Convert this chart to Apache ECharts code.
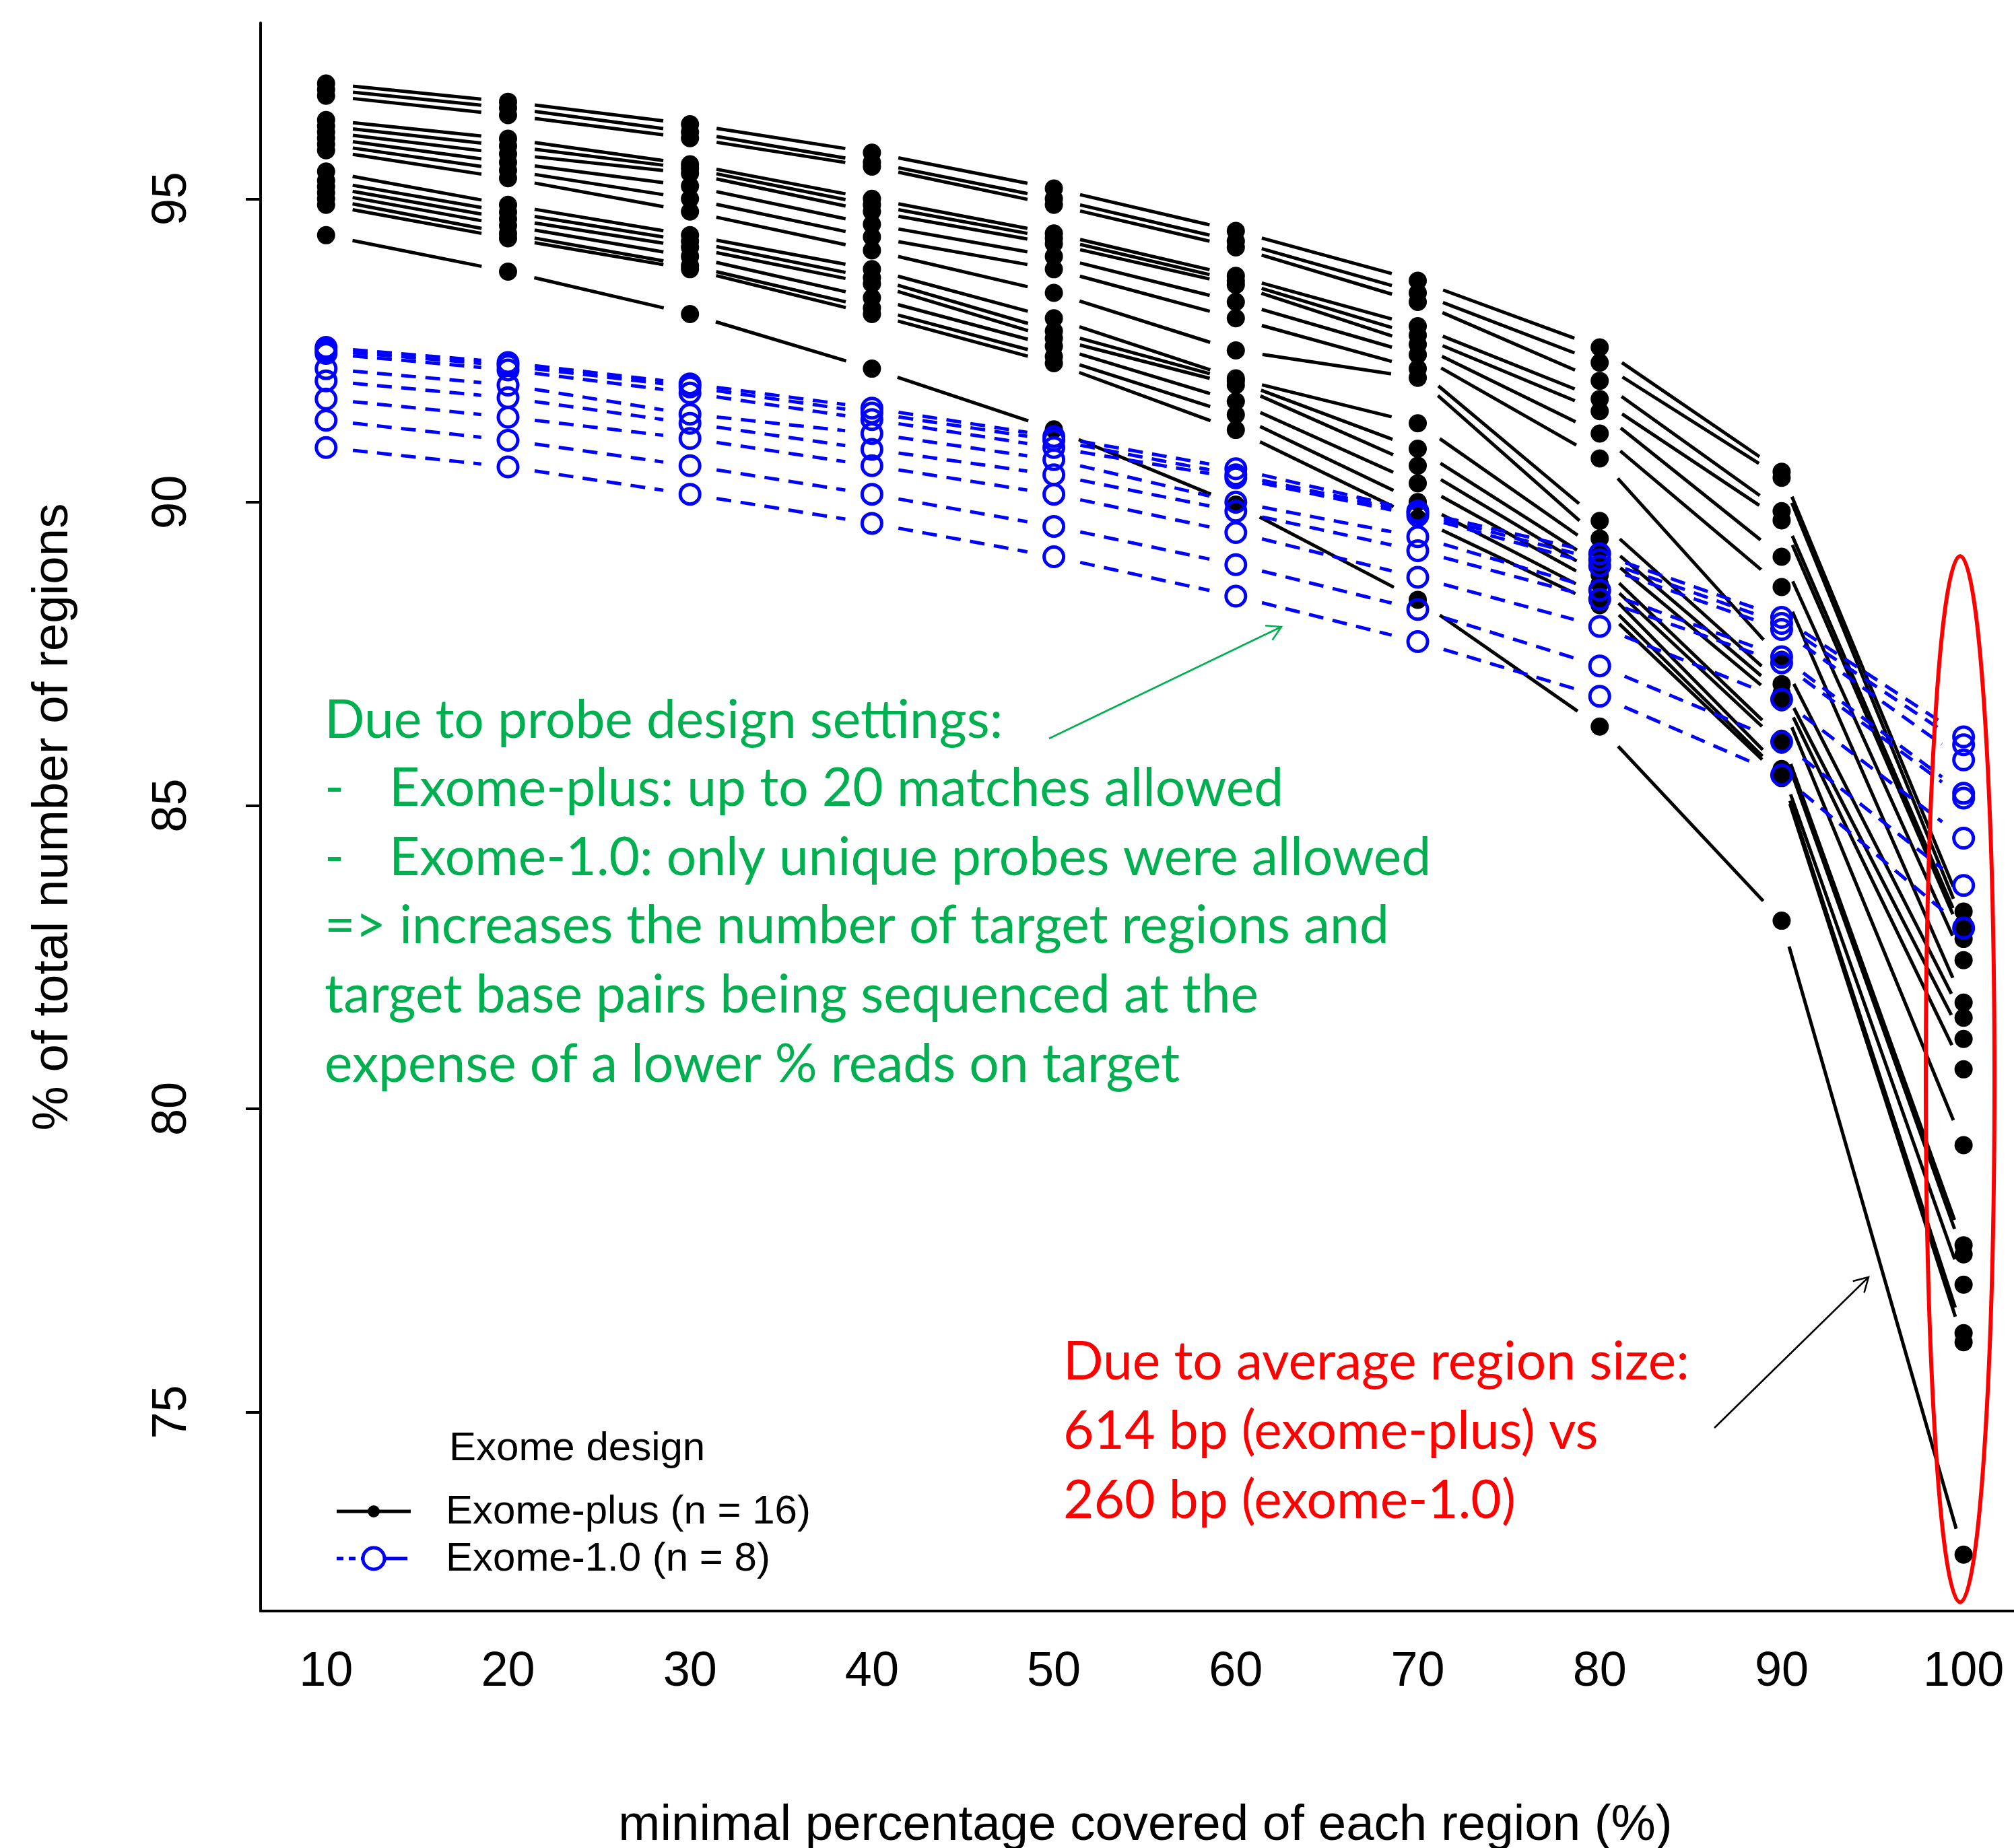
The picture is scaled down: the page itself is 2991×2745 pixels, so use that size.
<!DOCTYPE html>
<html>
<head>
<meta charset="utf-8">
<script src="https://cdn.jsdelivr.net/npm/echarts@6/dist/echarts.min.js"></script>
<style>
html,body{margin:0;padding:0;background:#fff;overflow:hidden;}
#chart{width:2991px;height:2745px;}
</style>
</head>
<body>
<div id="chart"></div>
<script>
// ---------------- DATA ----------------
const coverage = [10, 20, 30, 40, 50, 60, 70, 80, 90, 100];
const yTicks = [75, 80, 85, 90, 95];

// Exome-plus samples (n = 16)
const plus01 = [96.9, 96.6, 96.23, 95.76, 95.17, 94.47, 93.65, 92.55, 90.5, 83.25];
const plus02 = [96.8, 96.5, 96.1, 95.6, 95.0, 94.3, 93.45, 92.3, 90.4, 83.05];
const plus03 = [96.7, 96.38, 96.0, 95.53, 94.9, 94.2, 93.3, 92.0, 89.85, 82.9];
const plus04 = [96.3, 95.99, 95.57, 95.0, 94.43, 93.73, 92.9, 91.7, 89.7, 82.8];
const plus05 = [96.2, 95.87, 95.5, 94.9, 94.35, 93.65, 92.75, 91.5, 89.1, 82.45];
const plus06 = [96.1, 95.74, 95.42, 94.79, 94.26, 93.58, 92.6, 91.13, 88.6, 81.75];
const plus07 = [96.0, 95.6, 95.21, 94.58, 94.05, 93.3, 92.43, 90.72, 87.4, 81.5];
const plus08 = [95.9, 95.47, 95.0, 94.37, 93.84, 93.03, 92.2, 89.69, 87.0, 81.15];
const plus09 = [95.8, 95.34, 94.79, 94.15, 93.45, 92.5, 92.05, 89.4, 86.85, 80.65];
const plus10 = [95.45, 94.9, 94.4, 93.84, 93.03, 92.04, 91.3, 89.2, 86.7, 79.4];
const plus11 = [95.3, 94.78, 94.3, 93.7, 92.82, 92.0, 90.88, 88.97, 86.1, 77.75];
const plus12 = [95.2, 94.67, 94.2, 93.6, 92.7, 91.93, 90.6, 88.8, 86.0, 77.6];
const plus13 = [95.1, 94.56, 94.05, 93.37, 92.57, 91.66, 90.31, 88.65, 85.6, 77.1];
const plus14 = [95.0, 94.43, 93.9, 93.2, 92.4, 91.44, 90.0, 88.45, 85.5, 76.3];
const plus15 = [94.9, 94.35, 93.84, 93.1, 92.29, 91.19, 89.73, 88.3, 85.45, 76.15];
const plus16 = [94.4, 93.8, 93.1, 92.2, 91.2, 89.96, 88.39, 86.3, 83.1, 72.65];

// Exome-1.0 samples (n = 8)
const v1s1 = [92.55, 92.3, 91.95, 91.55, 91.08, 90.55, 89.85, 89.15, 88.1, 86.13];
const v1s2 = [92.5, 92.25, 91.9, 91.47, 91.02, 90.45, 89.82, 89.05, 88.0, 86.0];
const v1s3 = [92.45, 92.18, 91.8, 91.36, 90.9, 90.4, 89.78, 88.95, 87.9, 85.75];
const v1s4 = [92.2, 91.93, 91.45, 91.13, 90.7, 90.0, 89.43, 88.55, 87.45, 85.2];
const v1s5 = [92.0, 91.72, 91.3, 90.87, 90.45, 89.85, 89.2, 88.4, 87.35, 85.12];
const v1s6 = [91.7, 91.4, 91.05, 90.6, 90.13, 89.5, 88.76, 87.95, 86.75, 84.46];
const v1s7 = [91.35, 91.02, 90.6, 90.13, 89.6, 88.97, 88.23, 87.3, 86.05, 83.68];
const v1s8 = [90.9, 90.58, 90.13, 89.65, 89.1, 88.45, 87.7, 86.8, 85.5, 82.98];

const exomePlus = [plus01, plus02, plus03, plus04, plus05, plus06, plus07, plus08,
                   plus09, plus10, plus11, plus12, plus13, plus14, plus15, plus16];
const exome10 = [v1s1, v1s2, v1s3, v1s4, v1s5, v1s6, v1s7, v1s8];

// ---------------- BUILD ----------------
function points(group) {
  const out = [];
  group.forEach(s => s.forEach((v, i) => out.push([coverage[i], v])));
  return out;
}
function segments(group) {
  const out = [];
  group.forEach(s => {
    for (let i = 0; i < s.length - 1; i++) out.push([coverage[i], s[i], coverage[i + 1], s[i + 1]]);
  });
  return out;
}
const GAP = 40;
function segRender(color, dash) {
  return function (params, api) {
    const a = api.coord([api.value(0), api.value(1)]);
    const b = api.coord([api.value(2), api.value(3)]);
    const dx = b[0] - a[0], dy = b[1] - a[1], L = Math.hypot(dx, dy);
    if (L <= 2 * GAP) return {type: 'group', children: []};
    const ux = dx / L, uy = dy / L;
    return {
      type: 'line',
      shape: {x1: a[0] + ux * GAP, y1: a[1] + uy * GAP, x2: b[0] - ux * GAP, y2: b[1] - uy * GAP},
      style: {stroke: color, lineWidth: 5, lineDash: dash, fill: null}
    };
  };
}

const FONT = 'Liberation Sans, Arial, sans-serif';
const NOTE_FONT = 'Lato, Carlito, sans-serif';
const GREEN = '#00B050';
const RED = '#FF0000';

function arrow(x1, y1, x2, y2, color, w) {
  const dx = x2 - x1, dy = y2 - y1, L = Math.hypot(dx, dy);
  const ux = -dx / L, uy = -dy / L, h = 24, c = Math.cos(Math.PI / 6), s = Math.sin(Math.PI / 6);
  const p1 = [x2 + h * (ux * c - uy * s), y2 + h * (ux * s + uy * c)];
  const p2 = [x2 + h * (ux * c + uy * s), y2 + h * (-ux * s + uy * c)];
  return [
    {type: 'line', shape: {x1, y1, x2, y2}, style: {stroke: color, lineWidth: w}},
    {type: 'polyline', shape: {points: [p1, [x2, y2], p2]}, style: {stroke: color, lineWidth: w, fill: null}}
  ];
}
function txt(x, y, text, color, size, font) {
  return {type: 'text', x, y, style: {text, fill: color, font: size + 'px ' + font, textAlign: 'left', textVerticalAlign: 'middle'}};
}

const NS = 78.5;
const graphics = [
  txt(482, 1071, 'Due to probe design settings:', GREEN, NS, NOTE_FONT),
  txt(482, 1172, '-', GREEN, NS, NOTE_FONT),
  txt(578, 1172, 'Exome-plus: up to 20 matches allowed', GREEN, NS, NOTE_FONT),
  txt(482, 1275, '-', GREEN, NS, NOTE_FONT),
  txt(578, 1275, 'Exome-1.0: only unique probes were allowed', GREEN, NS, NOTE_FONT),
  txt(482, 1376, '=> increases the number of target regions and', GREEN, NS, NOTE_FONT),
  txt(482, 1479, 'target base pairs being sequenced at the', GREEN, NS, NOTE_FONT),
  txt(482, 1582, 'expense of a lower % reads on target', GREEN, NS, NOTE_FONT),
  txt(1579, 2024, 'Due to average region size:', RED, NS, NOTE_FONT),
  txt(1579, 2127, '614 bp (exome-plus) vs', RED, NS, NOTE_FONT),
  txt(1579, 2230, '260 bp (exome-1.0)', RED, NS, NOTE_FONT),
  ...arrow(1558, 1097, 1903, 931, GREEN, 2.5),
  ...arrow(2546, 2121, 2775, 1897, '#000', 2.5),
  {type: 'ellipse', shape: {cx: 2911, cy: 1603, rx: 51, ry: 777}, style: {stroke: RED, lineWidth: 6, fill: null}, z: 100},
  // legend
  txt(667, 2152, 'Exome design', '#000', 60, FONT),
  {type: 'line', shape: {x1: 500, y1: 2245, x2: 610, y2: 2245}, style: {stroke: '#000', lineWidth: 5}},
  {type: 'circle', shape: {cx: 555, cy: 2245, r: 9}, style: {fill: '#000'}},
  txt(662, 2246, 'Exome-plus (n = 16)', '#000', 60, FONT),
  {type: 'line', shape: {x1: 500, y1: 2315, x2: 538, y2: 2315}, style: {stroke: '#0000FF', lineWidth: 5, lineDash: [10, 8]}},
  {type: 'line', shape: {x1: 572, y1: 2315, x2: 605, y2: 2315}, style: {stroke: '#0000FF', lineWidth: 5}},
  {type: 'circle', shape: {cx: 555, cy: 2315, r: 16}, style: {fill: null, stroke: '#0000FF', lineWidth: 5}},
  txt(662, 2316, 'Exome-1.0 (n = 8)', '#000', 60, FONT)
];

const chart = echarts.init(document.getElementById('chart'), null, {renderer: 'canvas'});
chart.setOption({
  animation: false,
  backgroundColor: '#fff',
  grid: {left: 387, top: 34, width: 2604, height: 2359, outerBoundsMode: 'none', containLabel: false},
  xAxis: {
    type: 'value', min: 6.4, max: 102.77,
    name: 'minimal percentage covered of each region (%)',
    nameLocation: 'middle', nameGap: 282,
    nameTextStyle: {fontSize: 74.5, fontFamily: FONT, color: '#000', padding: [0, 0, 0, 24]},
    axisLine: {show: true, onZero: false, lineStyle: {color: '#000', width: 4}},
    axisTick: {show: false},
    axisLabel: {customValues: coverage, fontSize: 72, fontFamily: FONT, color: '#000', margin: 55},
    splitLine: {show: false}
  },
  yAxis: {
    type: 'value', min: 71.72, max: 97.9,
    name: '% of total number of regions',
    nameLocation: 'middle', nameGap: 270, nameRotate: 90,
    nameTextStyle: {fontSize: 74.5, fontFamily: FONT, color: '#000'},
    axisLine: {show: true, onZero: false, lineStyle: {color: '#000', width: 4}},
    axisTick: {show: true, customValues: yTicks, length: 22, lineStyle: {color: '#000', width: 4}},
    axisLabel: {customValues: yTicks, rotate: 90, fontSize: 72, fontFamily: FONT, color: '#000', margin: 95},
    splitLine: {show: false}
  },
  series: [
    {type: 'custom', name: 'plusLines', data: segments(exomePlus), encode: {x: [0, 2], y: [1, 3]},
     renderItem: segRender('#000', null), silent: true},
    {type: 'scatter', name: 'Exome-plus', data: points(exomePlus), symbol: 'circle', symbolSize: 27,
     itemStyle: {color: '#000', opacity: 1}},
    {type: 'custom', name: 'v1Lines', data: segments(exome10), encode: {x: [0, 2], y: [1, 3]},
     renderItem: segRender('#0000FF', [22, 14]), silent: true},
    {type: 'scatter', name: 'Exome-1.0', data: points(exome10), symbol: 'circle', symbolSize: 29,
     itemStyle: {color: 'rgba(0,0,0,0)', borderColor: '#0000FF', borderWidth: 5, opacity: 1}}
  ],
  graphic: graphics
});
</script>
</body>
</html>
